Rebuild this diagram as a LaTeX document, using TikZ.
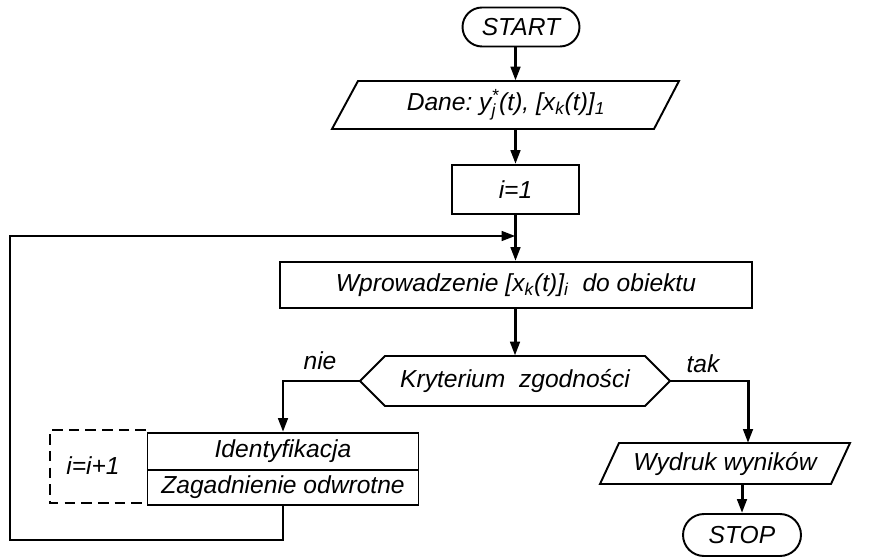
\documentclass[tikz,border=0pt]{standalone}
\usepackage{fontspec}
\setmainfont{Liberation Sans}
\usetikzlibrary{arrows.meta,calc,shapes.misc}
\newcommand{\supsub}[2]{\ensuremath{^{\mbox{\fontsize{10}{10}\selectfont\itshape #1}}_{\mbox{\fontsize{10}{10}\selectfont\itshape #2}}}}
\begin{document}
\begin{tikzpicture}[x=0.02cm,y=-0.02cm,
  every node/.style={font=\fontsize{14}{16}\selectfont\itshape, inner sep=0pt},
  arr/.style={line width=1.7pt,-{Triangle[length=2.8mm,width=1.9mm]}},
  box/.style={draw,line width=1.1pt,rectangle},
  shapeline/.style={draw,line width=1.1pt,line join=miter},
  dashline/.style={line width=1.1pt,line join=miter,dash pattern=on 6pt off 3.5pt},
  term/.style={draw,line width=1.1pt,rounded rectangle}
]
\useasboundingbox (0,0) rectangle (875,560);

% nodes
\node[term, minimum width=2.34cm, minimum height=0.78cm] (start) at (521,27) {START};
\node[minimum width=6.4cm, minimum height=0.96cm] (dane) at (506,105) {Dane:\ y\supsub{*}{j}(t), [x\textsubscript{k}(t)]\textsubscript{1}};
\draw[shapeline] (358,81) -- (679,81) -- (654,129) -- (332,129) -- cycle;
\node[box, minimum width=2.54cm, minimum height=0.98cm] (i1) at (515.5,189.5) {i=1};
\node[box, minimum width=9.44cm, minimum height=0.92cm] (wpr) at (516,285) {Wprowadzenie [x\textsubscript{k}(t)]\textsubscript{i}\ \ do obiektu};
\coordinate (j) at (515.5,236);
\node[minimum width=6.2cm, minimum height=1.0cm] (dec) at (515,381) {Kryterium\ \ zgodności};
\draw[shapeline] (360,381) -- (385,356) -- (645,356) -- (670,381) -- (645,406) -- (385,406) -- cycle;
\node (nie) at (320,361) {nie};
\node (tak) at (703,364) {tak};
\node[box, minimum width=5.42cm, minimum height=0.74cm] (ident) at (283,451.5) {Identyfikacja};
\node[box, minimum width=5.42cm, minimum height=0.70cm] (zag) at (283,487.5) {Zagadnienie\ odwrotne};
\node (inc) at (93,466) {i=i+1};
\draw[dashline] (146,430) -- (50,430) -- (50,503) -- (146,503);
\node[minimum width=4.62cm, minimum height=0.82cm] (wyd) at (725,463.5) {Wydruk wyników};
\draw[shapeline] (619,443) -- (850,443) -- (831,484) -- (600,484) -- cycle;
\node[term, minimum width=2.36cm, minimum height=0.84cm] (stop) at (742,535) {STOP};

\coordinate (lb) at (10,540);
\coordinate (lt) at (10,236);
\coordinate (tk) at (748,443);

% connectors
\draw[arr] (start.south -| j) -- (j |- dane.north);
\draw[arr] (j |- dane.south) -- (i1.north);
\draw[arr] (i1.south) -- (i1.south |- wpr.north);
\draw[arr] (wpr.south -| dec.north) -- (dec.north);
\draw[arr] (dec.west) -| (ident.north);
\draw[arr] (dec.east) -| (tk);
\draw[arr] (wyd.south -| stop.north) -- (stop.north);
\draw[arr] (zag.south) |- (lb) -- (lt) -- (j);
\end{tikzpicture}
\end{document}
